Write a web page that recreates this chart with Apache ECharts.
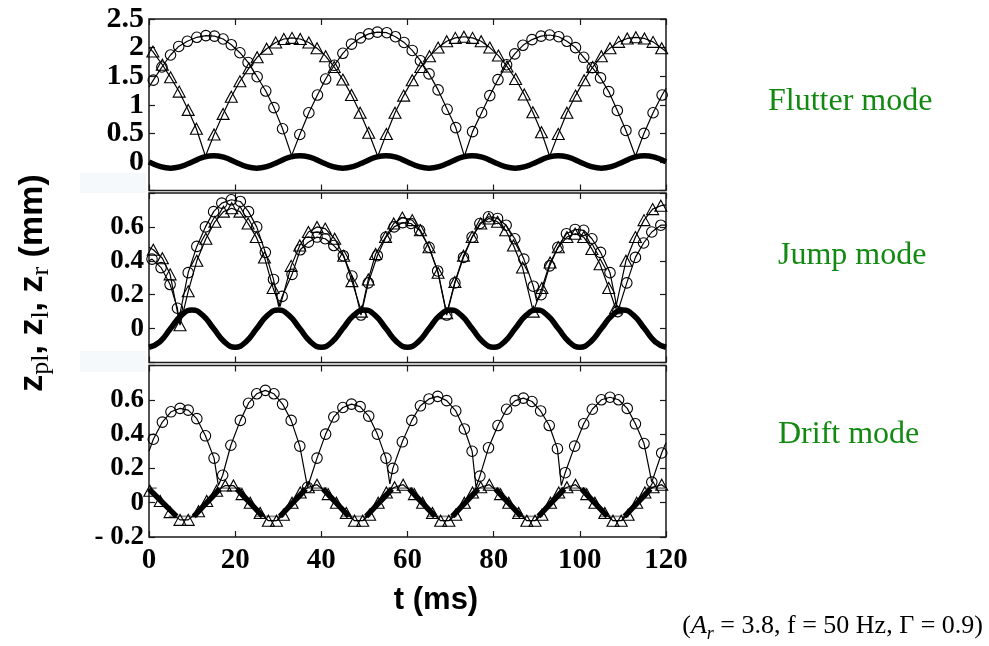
<!DOCTYPE html>
<html>
<head>
<meta charset="utf-8">
<script src="https://cdn.jsdelivr.net/npm/echarts@6/dist/echarts.min.js"></script>
<style>html,body{margin:0;padding:0;background:#fff;}#c{width:989px;height:646px;}</style>
</head>
<body>
<div id="c"></div>
<script>
// ---------- DATA ----------
const xTickLabels = ['0','20','40','60','80','100','120'];
const p1YTickVals = [0,0.5,1,1.5,2,2.5];
const p1YTickLabels = ['0','0.5','1','1.5','2','2.5'];
const p2YTickVals = [0,0.2,0.4,0.6];
const p2YTickLabels = ['0','0.2','0.4','0.6'];
const p3YTickVals = [-0.2,0,0.2,0.4,0.6];
const p3YTickLabels = ['- 0.2','0','0.2','0.4','0.6'];
const modeLabels = ['Flutter mode','Jump mode','Drift mode'];

// plate position z_pl, sampled every 2.5 ms (panels 1 and 2)
const plateT = [0,2.5,5,7.5,10,12.5,15,17.5,20,22.5,25,27.5,30,32.5,35,37.5,40,42.5,45,47.5,50,52.5,55,57.5,60,62.5,65,67.5,70,72.5,75,77.5,80,82.5,85,87.5,90,92.5,95,97.5,100,102.5,105,107.5,110,112.5,115,117.5,120];
const p1Plate = [0,-0.078,-0.11,-0.078,0,0.078,0.11,0.078, 0,-0.078,-0.11,-0.078,0,0.078,0.11,0.078, 0,-0.078,-0.11,-0.078,0,0.078,0.11,0.078, 0,-0.078,-0.11,-0.078,0,0.078,0.11,0.078, 0,-0.078,-0.11,-0.078,0,0.078,0.11,0.078, 0,-0.078,-0.11,-0.078,0,0.078,0.11,0.078, 0];
const p2Plate = [-0.11,-0.078,0,0.078,0.11,0.078,0,-0.078, -0.11,-0.078,0,0.078,0.11,0.078,0,-0.078, -0.11,-0.078,0,0.078,0.11,0.078,0,-0.078, -0.11,-0.078,0,0.078,0.11,0.078,0,-0.078, -0.11,-0.078,0,0.078,0.11,0.078,0,-0.078, -0.11,-0.078,0,0.078,0.11,0.078,0,-0.078, -0.11];
// panel 3: visible thick plate segments (slopes only), null = gap
const p3PlateT = [0,3.2,6.4,6.5, 10.4,13.4,16.4,16.5, 20.4,23.4,26.4,26.5, 30.4,33.4,36.4,36.5, 40.4,43.4,46.4,46.5, 50.4,53.4,56.4,56.5, 60.4,63.4,66.4,66.5, 70.4,73.4,76.4,76.5, 80.4,83.4,86.4,86.5, 90.4,93.4,96.4,96.5, 100.4,103.4,106.4,106.5, 110.4,113.4,116.4];
const p3PlateV = [0.08,0,-0.08,null, -0.08,0,0.08,null, 0.08,0,-0.08,null, -0.08,0,0.08,null, 0.08,0,-0.08,null, -0.08,0,0.08,null, 0.08,0,-0.08,null, -0.08,0,0.08,null, 0.08,0,-0.08,null, -0.08,0,0.08,null, 0.08,0,-0.08,null, -0.08,0,0.08];

// Panel 1 (flutter): circles
const p1CircT = [1.0,3.0,5.0,6.9,8.9,11.1,13.2,15.2,17.2,19.1,21.1,23.0,25.1,27.1,29.0,31.0, 35.0,37.1,39.1,41.0,43.0,45.0,47.0,49.1,51.0,53.0,55.2,57.2,59.2,61.1,63.0,65.0,67.1,69.2,71.2, 75.1,77.2,79.1,81.0,83.0,84.9,86.8,88.9,91.0,93.0,95.1,97.0,99.0,100.9,102.9,104.8,106.7,108.7,110.7, 114.9,117.0,119.1];
const p1CircV = [1.43,1.66,1.87,2.02,2.11,2.18,2.21,2.20,2.15,2.05,1.91,1.74,1.49,1.24,0.95,0.58, 0.48,0.86,1.17,1.45,1.69,1.90,2.06,2.17,2.24,2.27,2.26,2.19,2.09,1.95,1.77,1.54,1.26,0.92,0.60, 0.53,0.86,1.16,1.44,1.70,1.89,2.04,2.14,2.20,2.22,2.19,2.11,2.00,1.83,1.65,1.47,1.23,0.90,0.55, 0.50,0.86,1.17];
const p1CircEdgeT = [0,33.1,73.2,112.9,120];
const p1CircEdgeV = [1.31,0.11,0.10,0.10,1.29];
// Panel 1: triangles
const p1TriT = [0.9,3.1,5.0,7.0,9.1,11.0, 15.1,17.2,19.1,21.1,23.2,25.1,27.3,29.4,31.3,33.2,35.1,37.1,39.0,41.0,43.0,45.0,47.0,49.0,51.0, 55.1,57.1,59.1,61.1,63.1,65.1,67.1,69.1,71.1,73.1,75.1,77.1,79.1,81.1,83.1,85.1,87.1,89.1,91.1, 95.0,97.0,99.0,101.0,103.0,105.0,107.0,109.0,111.0,113.0,115.0,117.0,119.0];
const p1TriV = [1.93,1.70,1.48,1.23,0.91,0.58, 0.48,0.84,1.14,1.41,1.64,1.83,1.98,2.09,2.15,2.17,2.15,2.09,1.99,1.85,1.66,1.44,1.17,0.86,0.51, 0.49,0.86,1.16,1.43,1.66,1.85,2.00,2.11,2.17,2.19,2.17,2.11,2.00,1.86,1.67,1.45,1.18,0.87,0.52, 0.49,0.86,1.16,1.43,1.66,1.85,1.99,2.10,2.16,2.18,2.16,2.10,1.99];
const p1TriEdgeT = [0,13.1,53.1,93.0,120];
const p1TriEdgeV = [2.0,0.10,0.10,0.10,1.93];

// Panel 2 (jump): circles
const p2CircT = [0.7,2.8,4.9,6.6, 9.1,11.1,13.1,15.0,16.9,19.1,21.2,23.1,25.0,27.0,28.9, 30.9,33.2,35.1,37.0,39.0,40.9,42.9,45.1,47.1,49.2, 50.9,53.0,55.0,56.9,58.9,60.8,62.8,65.0,67.0,69.1, 71.0,73.0,75.0,76.8,78.8,80.9,82.9,84.9,87.0,89.2, 91.0,93.0,94.9,96.9,98.9,100.9,102.8,104.8,107.0,108.8, 110.9,112.9,114.8,116.7,118.8];
const p2CircV = [0.41,0.36,0.26,0.12, 0.33,0.485,0.60,0.69,0.74,0.76,0.75,0.69,0.60,0.45,0.29, 0.19,0.32,0.465,0.51,0.54,0.53,0.49,0.43,0.31,0.08, 0.27,0.43,0.54,0.60,0.625,0.62,0.58,0.48,0.34,0.08, 0.27,0.42,0.54,0.62,0.66,0.65,0.61,0.53,0.41,0.25, 0.20,0.37,0.48,0.56,0.585,0.58,0.53,0.45,0.33,0.10, 0.27,0.42,0.505,0.57,0.61];
const p2CircEdgeT = [0,6.9,30.1,90.0,120];
const p2CircEdgeV = [0.40,0.05,0.13,0.16,0.61];
// Panel 2: triangles
const p2TriT = [1.0,3.1,4.9,7.2,9.1,11.1,13.2,15.3,17.3,19.2,21.1,23.0,24.9,26.8,28.8, 33.0,35.0,37.0,39.0,40.9,43.1,45.2,47.1,49.3, 50.9,52.6,54.9,56.8,58.8,61.1,63.0,65.0,67.1,69.1, 71.0,73.0,75.0,77.0,78.9,80.9,82.8,84.6,86.7,89.2, 91.2,93.1,95.0,97.0,98.9,100.9,102.8,104.7,106.7,108.3, 110.7,112.9,114.9,116.9,118.8];
const p2TriV = [0.465,0.415,0.32,0.02,0.22,0.40,0.53,0.63,0.69,0.71,0.69,0.62,0.54,0.42,0.24, 0.37,0.49,0.57,0.60,0.59,0.53,0.43,0.28,0.10, 0.29,0.44,0.54,0.62,0.655,0.64,0.58,0.48,0.33,0.09, 0.275,0.43,0.54,0.62,0.65,0.63,0.58,0.49,0.36,0.10, 0.24,0.39,0.48,0.54,0.56,0.54,0.47,0.38,0.24,0.12, 0.40,0.54,0.64,0.705,0.725];
const p2TriEdgeT = [0,30.4,120];
const p2TriEdgeV = [0.48,0.13,0.73];

// Panel 3 (drift): circles
const p3CircT = [1.0,3.1,5.1,7.2,9.1,11.1,13.1,15.1, 17.1,19.0,21.2,23.1,25.0,27.0,29.0,31.0,33.0,35.0,36.8, 39.0,41.0,42.9,45.0,47.0,49.0,51.0,53.0,55.0, 56.6,58.8,61.0,63.0,65.0,67.0,69.1,71.2,73.2,75.0, 76.8,78.8,81.0,83.0,85.0,86.9,88.9,90.9,92.9,94.8, 96.6,98.8,100.9,102.9,105.0,107.0,109.0,111.0,112.9,114.9,116.7, 119.0];
const p3CircV = [0.37,0.47,0.53,0.55,0.54,0.49,0.39,0.26, 0.16,0.335,0.48,0.58,0.635,0.655,0.635,0.575,0.48,0.33,0.09, 0.26,0.40,0.50,0.555,0.575,0.56,0.505,0.40,0.26, 0.20,0.355,0.48,0.565,0.605,0.62,0.595,0.535,0.43,0.30, 0.155,0.32,0.45,0.545,0.595,0.61,0.59,0.535,0.45,0.315, 0.175,0.33,0.46,0.545,0.60,0.615,0.60,0.55,0.46,0.345,0.12, 0.29];
const p3CircEdgeT = [0,16.1,55.9,75.9,95.7,120];
const p3CircEdgeV = [0.30,0.10,0.11,0.09,0.10,0.35];
// Panel 3: triangles
const p3TriT = [0.2,2.6,4.9,7.2,9.1,11.5,13.4,15.7,17.7,19.6, 21.6,23.5,25.8,27.7,29.6,31.2,33.2,35.1,37.0,39.0, 41.6,43.5,45.8,47.7,49.6,51.2,53.2,55.1,57.0,59.0, 61.6,63.5,65.8,67.7,69.6,71.2,73.2,75.1,77.0,79.0, 81.6,83.5,85.8,87.7,89.6,91.2,93.2,95.1,97.0,99.0, 101.6,103.5,105.8,107.7,109.6,111.2,113.2,115.1,117.0,119.0];
const p3TriV = [0.07,0.01,-0.055,-0.10,-0.10,-0.05,0.01,0.07,0.10,0.10, 0.05,0.0,-0.06,-0.105,-0.105,-0.07,0.0,0.06,0.09,0.105, 0.05,0.0,-0.06,-0.105,-0.105,-0.07,0.0,0.06,0.09,0.105, 0.05,0.0,-0.06,-0.105,-0.105,-0.07,0.0,0.06,0.09,0.105, 0.05,0.0,-0.06,-0.105,-0.105,-0.07,0.0,0.06,0.09,0.105, 0.05,0.0,-0.06,-0.105,-0.105,-0.07,0.0,0.06,0.09,0.105];
const p3TriEdgeT = [120];
const p3TriEdgeV = [0.085];
// Panel 3: short grey flat segments (start, end, level)
const p3FlatStart = [0,15.6,35.6,55.5,75.5,95.5,115.5, 4.6,24.5,44.5,64.5,84.5,104.5];
const p3FlatEnd   = [1.8,21.6,41.4,61.4,81.4,101.4,120, 11.4,31.4,51.4,71.4,91.4,111.4];
const p3FlatLevel = [0.085,0.085,0.085,0.085,0.085,0.085,0.085, -0.08,-0.08,-0.08,-0.08,-0.08,-0.08];

// ---------- CHART ----------
function pts(t, v) { return t.map((x, i) => [x, v[i] === null ? null : v[i]]); }
function merged(mt, mv, et, ev) {
  const a = mt.map((x, i) => ({ value: [x, mv[i]] }));
  et.forEach((x, i) => a.push({ value: [x, ev[i]], symbol: 'none' }));
  a.sort((p, q) => p.value[0] - q.value[0]);
  return a;
}
function flats() {
  const out = [];
  p3FlatStart.forEach((s, i) => {
    out.push([s, p3FlatLevel[i]], [p3FlatEnd[i], p3FlatLevel[i]], [p3FlatEnd[i] + 0.01, null]);
  });
  return out;
}
function labelFor(vals, labs, keep) {
  return function (v) {
    for (let i = 0; i < vals.length; i++) {
      if (Math.abs(vals[i] - v) < 1e-6) return (!keep || keep(i)) ? labs[i] : '';
    }
    return '';
  };
}

const frame = '#1a1a1a';
const gridW = 517;
const grids = [
  { left: 149, top: 19, width: gridW, height: 171.5 },
  { left: 149, top: 193, width: gridW, height: 169.5 },
  { left: 149, top: 365.5, width: gridW, height: 171.5 }
].map(g => Object.assign({ show: true, borderColor: frame, borderWidth: 1.5, backgroundColor: 'transparent' }, g));

const tickStyle = { inside: true, length: 6, lineStyle: { color: frame, width: 1.2 } };
const noLine = { show: false, onZero: false };
const xAxes = [];
const yAxes = [];
const yRanges = [[-0.5, 2.5, 0.5], [-0.2, 0.8, 0.2], [-0.2, 0.8, 0.2]];
const yFont = [30, 27, 27];
const lastP1 = p1YTickLabels.length - 1;
const yLab = [
  labelFor(p1YTickVals, p1YTickLabels, i => i !== lastP1),
  labelFor(p2YTickVals, p2YTickLabels),
  labelFor(p3YTickVals, p3YTickLabels)
];
const labStyle = (fs) => ({ color: '#000', fontFamily: 'Liberation Serif', fontWeight: 'bold', fontSize: fs,
  showMinLabel: true, showMaxLabel: true, hideOverlap: false });
for (let i = 0; i < 3; i++) {
  xAxes.push({
    type: 'value', gridIndex: i, position: 'bottom', min: 0, max: 120, interval: 20,
    axisLine: noLine, splitLine: { show: false }, axisTick: tickStyle,
    axisLabel: Object.assign(labStyle(29), { show: i === 2, margin: 9, formatter: v => xTickLabels[Math.round(v / 20)] })
  });
  yAxes.push({
    type: 'value', gridIndex: i, position: 'left', min: yRanges[i][0], max: yRanges[i][1], interval: yRanges[i][2],
    axisLine: noLine, splitLine: { show: false }, axisTick: tickStyle,
    axisLabel: Object.assign(labStyle(yFont[i]), { margin: 5, formatter: yLab[i] })
  });
}
for (let i = 0; i < 3; i++) {
  xAxes.push({
    type: 'value', gridIndex: i, position: 'top', min: 0, max: 120, interval: 20,
    axisLine: noLine, splitLine: { show: false }, axisTick: tickStyle, axisLabel: { show: false }
  });
  yAxes.push({
    type: 'value', gridIndex: i, position: 'right', min: yRanges[i][0], max: yRanges[i][1], interval: yRanges[i][2],
    axisLine: noLine, splitLine: { show: false }, axisTick: tickStyle, axisLabel: { show: false }
  });
}
// extra label-only axis for the top tick label of panel 1 (moved onto the left edge)
yAxes.push({
  type: 'value', gridIndex: 0, position: 'right', offset: -gridW, min: yRanges[0][0], max: yRanges[0][1], interval: yRanges[0][2],
  axisLine: noLine, splitLine: { show: false }, axisTick: { show: false },
  axisLabel: Object.assign(labStyle(yFont[0]), { inside: true, margin: 5, formatter: labelFor(p1YTickVals, p1YTickLabels, i => i === lastP1) })
});

function plateSeries(i, data, smooth) {
  return { type: 'line', xAxisIndex: i, yAxisIndex: i, data: data, smooth: smooth, showSymbol: false, connectNulls: false,
    lineStyle: { color: '#000', width: 5.5 }, z: 3, silent: true };
}
function markSeries(i, data, sym, size) {
  return { type: 'line', xAxisIndex: i, yAxisIndex: i, data: data, symbol: sym, symbolSize: size, showAllSymbol: true,
    itemStyle: { color: 'rgba(255,255,255,0)', borderColor: '#000', borderWidth: 1.1 },
    lineStyle: { color: '#000', width: 1.2 }, z: 4, silent: true };
}
const CIRC = 10.5, TRI = [12, 11];
const series = [
  plateSeries(0, pts(plateT, p1Plate), 0.5),
  markSeries(0, merged(p1CircT, p1CircV, p1CircEdgeT, p1CircEdgeV), 'circle', CIRC),
  markSeries(0, merged(p1TriT, p1TriV, p1TriEdgeT, p1TriEdgeV), 'triangle', TRI),
  plateSeries(1, pts(plateT, p2Plate), 0.5),
  markSeries(1, merged(p2CircT, p2CircV, p2CircEdgeT, p2CircEdgeV), 'circle', CIRC),
  markSeries(1, merged(p2TriT, p2TriV, p2TriEdgeT, p2TriEdgeV), 'triangle', TRI),
  { type: 'line', xAxisIndex: 2, yAxisIndex: 2, data: flats(), showSymbol: false, connectNulls: false,
    lineStyle: { color: '#8a8a8a', width: 1.6 }, z: 2, silent: true },
  plateSeries(2, pts(p3PlateT, p3PlateV), 0.3),
  markSeries(2, merged(p3CircT, p3CircV, p3CircEdgeT, p3CircEdgeV), 'circle', CIRC),
  markSeries(2, merged(p3TriT, p3TriV, p3TriEdgeT, p3TriEdgeV), 'triangle', TRI)
];

const green = '#128a12';
const graphic = [
  { type: 'rect', shape: { x: 80, y: 173, width: 66, height: 20 }, style: { fill: '#f5f9fc' }, z: -1, silent: true },
  { type: 'rect', shape: { x: 80, y: 351, width: 66, height: 21 }, style: { fill: '#f5f9fc' }, z: -1, silent: true },
  { type: 'text', x: 35, y: 283, rotation: Math.PI / 2, silent: true,
    style: {
      text: '{z|z}{s|pl}{z|, z}{s|l}{z|, z}{s|r}{z| (mm)}', align: 'center', verticalAlign: 'middle', fill: '#000',
      rich: {
        z: { fontFamily: 'Liberation Sans', fontWeight: 'bold', fontSize: 34, lineHeight: 38, verticalAlign: 'top', fill: '#000' },
        s: { fontFamily: 'Liberation Serif', fontSize: 26, lineHeight: 22, padding: [20, 0, 0, 0], verticalAlign: 'bottom', fill: '#000' }
      }
    } },
  { type: 'text', x: 436, y: 600, silent: true,
    style: { text: 't (ms)', align: 'center', verticalAlign: 'middle', fill: '#000', fontFamily: 'Liberation Sans', fontWeight: 'bold', fontSize: 31 } },
  { type: 'text', x: 768, y: 102, silent: true,
    style: { text: modeLabels[0], align: 'left', verticalAlign: 'middle', fill: green, fontFamily: 'Liberation Serif', fontSize: 32 } },
  { type: 'text', x: 778, y: 256, silent: true,
    style: { text: modeLabels[1], align: 'left', verticalAlign: 'middle', fill: green, fontFamily: 'Liberation Serif', fontSize: 32 } },
  { type: 'text', x: 778, y: 435, silent: true,
    style: { text: modeLabels[2], align: 'left', verticalAlign: 'middle', fill: green, fontFamily: 'Liberation Serif', fontSize: 32 } },
  { type: 'text', x: 983, y: 628, silent: true,
    style: {
      text: '{p|(}{i|A}{b|r}{p| = 3.8, f = 50 Hz, Γ = 0.9)}', align: 'right', verticalAlign: 'middle', fill: '#000',
      rich: {
        p: { fontFamily: 'Liberation Serif', fontSize: 26, lineHeight: 30, verticalAlign: 'top', fill: '#000' },
        i: { fontFamily: 'Liberation Serif', fontStyle: 'italic', fontSize: 26, lineHeight: 30, verticalAlign: 'top', fill: '#000' },
        b: { fontFamily: 'Liberation Serif', fontStyle: 'italic', fontSize: 18, lineHeight: 18, padding: [15, 0, 0, 0], verticalAlign: 'bottom', fill: '#000' }
      }
    } }
];

const chart = echarts.init(document.getElementById('c'), null, { renderer: 'canvas' });
chart.setOption({
  animation: false,
  backgroundColor: '#fff',
  grid: grids,
  xAxis: xAxes,
  yAxis: yAxes,
  series: series,
  graphic: graphic
});
</script>
</body>
</html>
